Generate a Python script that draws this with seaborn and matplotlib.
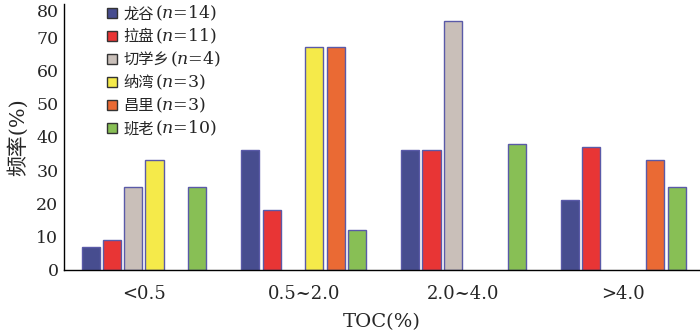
import numpy as np
import pandas as pd
import seaborn as sns
import matplotlib.pyplot as plt

# TOC classes and frequency (%) per locality
categories = ['<0.5', '0.5~2.0', '2.0~4.0', '>4.0']
sites = ['龙谷', '拉盘', '切学乡', '纳湾', '昌里', '班老']
counts = [14, 11, 4, 3, 3, 10]
longgu = [7, 36, 36, 21]
lapan = [9, 18, 36, 37]
qiexuexiang = [25, 0, 75, 0]
nawan = [33, 67, 0, 0]
changli = [0, 67, 0, 33]
banlao = [25, 12, 38, 25]
colors = ['#474d8f', '#e83535', '#c9bfb9', '#f5ea4a', '#ea6a34', '#88bf55']

values = [longgu, lapan, qiexuexiang, nawan, changli, banlao]
rows = []
for name, vals in zip(sites, values):
    for cat, v in zip(categories, vals):
        if v > 0:
            rows.append({'TOC': cat, 'site': name, 'freq': v})
df = pd.DataFrame(rows)

sns.set_style('white')
plt.rcParams['font.family'] = ['DejaVu Serif', 'Noto Sans CJK SC']
plt.rcParams['mathtext.fontset'] = 'dejavuserif'

fig = plt.figure(figsize=(7, 3.34), dpi=100)
ax = fig.add_axes([0.0914, 0.192, 0.9086, 0.796])

sns.barplot(data=df, x='TOC', y='freq', hue='site', order=categories,
            hue_order=sites, palette=colors, width=0.8, gap=0.15,
            edgecolor='#5a5aa8', linewidth=1, saturation=1, ax=ax)

ax.set_xlim(-0.5, 3.48)
ax.set_ylim(0, 80)
ax.set_yticks(np.arange(0, 81, 10))
ax.tick_params(axis='y', direction='in', length=5, width=1, labelsize=12.5, pad=4)
ax.get_yticklabels()[-1].set_va('top')

# group separators as major ticks, category names as minor tick labels
ax.set_xticks([0.5, 1.5, 2.5])
ax.set_xticklabels([])
ax.tick_params(axis='x', which='major', direction='in', length=5, width=1)
ax.set_xticks(range(len(categories)), minor=True)
ax.set_xticklabels(categories, minor=True)
ax.tick_params(axis='x', which='minor', length=0, labelsize=13, pad=11)

for s in ['top', 'right']:
    ax.spines[s].set_visible(False)
for s in ['left', 'bottom']:
    ax.spines[s].set_color('black')
    ax.spines[s].set_linewidth(1)

ax.set_xlabel('TOC(%)', fontsize=14, labelpad=7)
ax.set_ylabel('频率(%)', fontsize=15, labelpad=6)

leg = ax.legend(loc='upper left', bbox_to_anchor=(0.067, 0.995), frameon=False,
                prop={'family': 'Noto Sans CJK SC', 'size': 11},
                handlelength=0.66, handleheight=0.66, handletextpad=0.45,
                labelspacing=0.39, borderpad=0, borderaxespad=0)
for p in leg.get_patches():
    p.set_edgecolor('#333333')

fig.canvas.draw()
for t, n in zip(leg.get_texts(), counts):
    ax.annotate('$(n$=%d)' % n, xy=(1, 0.5), xycoords=t, xytext=(0.5, 0),
                textcoords='offset points', va='center', ha='left',
                fontsize=12.5, family='DejaVu Serif')

fig.savefig('out.png', dpi=100)
